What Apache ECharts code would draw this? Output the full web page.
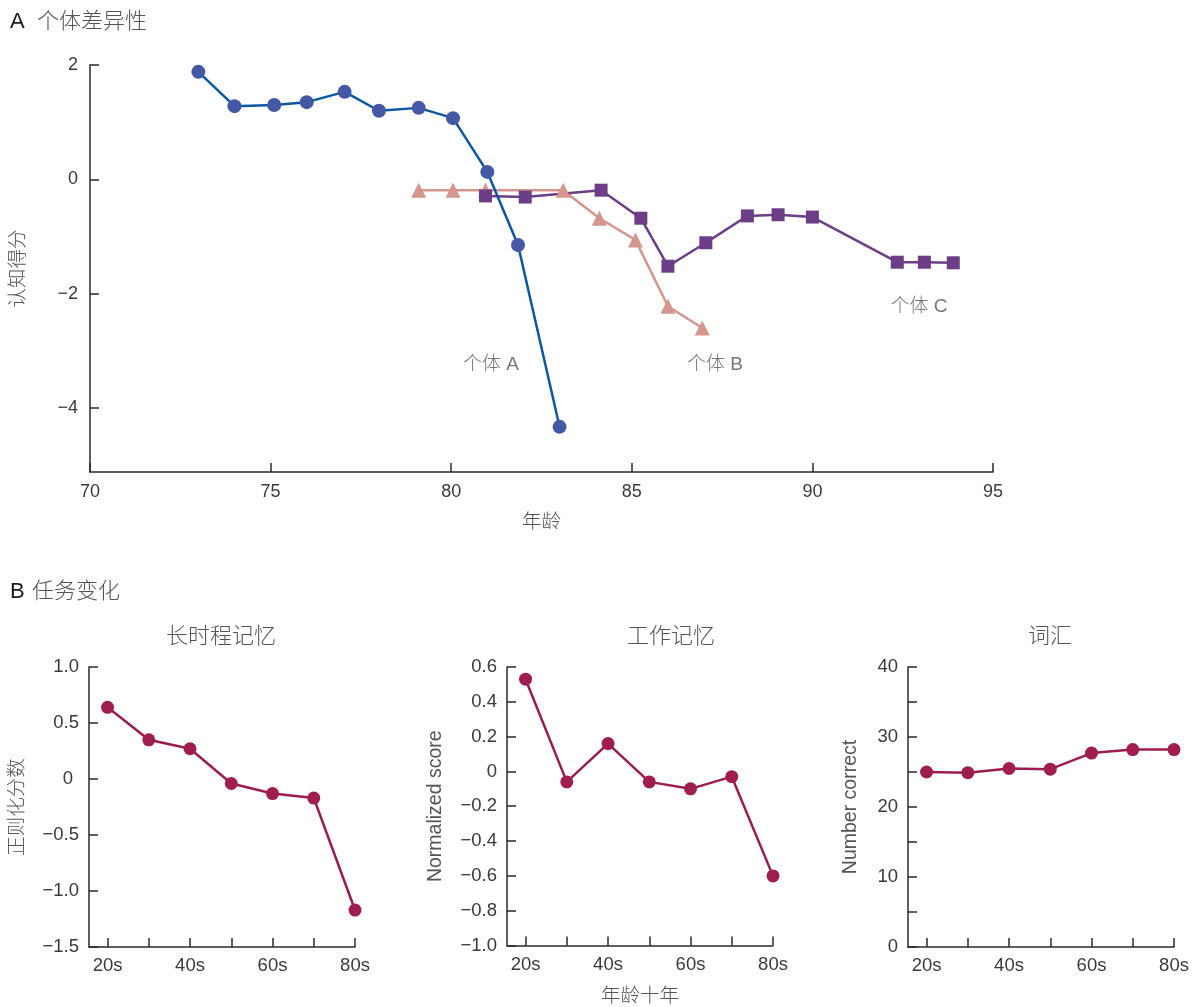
<!DOCTYPE html>
<html><head><meta charset="utf-8">
<script src="https://cdn.jsdelivr.net/npm/echarts@6/dist/echarts.min.js"></script>
<style>html,body{margin:0;padding:0;background:#fff}#c{width:1195px;height:1007px}</style>
</head><body><div id="c"></div>
<script>
// ---- Panel A data: [age, score]
const personA = [[73,1.88],[74,1.28],[75.1,1.30],[76,1.35],[77.05,1.53],[78,1.20],[79.1,1.25],[80.05,1.07],[81,0.13],[81.85,-1.15],[83,-4.33]];
const personB = [[79.1,-0.19],[80.05,-0.19],[80.95,-0.19],[83.1,-0.19],[84.1,-0.68],[85.1,-1.06],[86,-2.22],[86.95,-2.60]];
const personC = [[80.95,-0.29],[82.05,-0.31],[84.15,-0.19],[85.25,-0.68],[86,-1.52],[87.05,-1.11],[88.2,-0.64],[89.05,-0.62],[90,-0.66],[92.35,-1.45],[93.1,-1.45],[93.9,-1.46]];
const annotations = [[81.1,-3.25,'个体 A'],[87.3,-3.25,'个体 B'],[92.95,-2.23,'个体 C']];
const yTicksA = [2,0,-2,-4];
// ---- Panel B data
const decades = ['20s','30s','40s','50s','60s','70s','80s'];
const longTermMemory = [0.64,0.35,0.27,-0.04,-0.13,-0.17,-1.17];
const workingMemory = [0.53,-0.06,0.16,-0.06,-0.10,-0.03,-0.60];
const vocabulary = [25.0,24.9,25.5,25.4,27.7,28.2,28.2];
const panelTitles = ['长时程记忆','工作记忆','词汇'];

const FONT = '"Liberation Sans","Noto Sans CJK SC",sans-serif';
const TXT = '#3a3a3a';
const NAMEC = '#555';
const chart = echarts.init(document.getElementById('c'));

const axisLine = {show:true, onZero:false, lineStyle:{color:'#2a2a2a', width:1.5}};
const tickIn = {show:true, inside:true, length:9, lineStyle:{color:'#2a2a2a', width:1.5}};
const lbl = (size)=>({color:TXT, fontSize:size, fontFamily:FONT});
const nameStyle = {color:NAMEC, fontSize:19.5, fontFamily:FONT, fontWeight:300};

const decadeIdx = decades.map((d,i)=>i);
const labelIdx = decadeIdx.filter(i=>i%2===0);
function pts(arr){return arr.map((v,i)=>[i,v]);}

const grids = [
  {left:90, top:65, width:903, height:407},
  {left:89, top:667, width:266, height:280},
  {left:507, top:667, width:266, height:280},
  {left:908, top:667, width:266, height:280}
];

function bx(gi, name){
  return {type:'value', gridIndex:gi, min:-0.45, max:6,
    axisLine:axisLine, splitLine:{show:false},
    axisTick:Object.assign({}, tickIn, {customValues:decadeIdx}),
    axisLabel:Object.assign(lbl(18.5), {margin:10, customValues:labelIdx, formatter:v=>decades[Math.round(v)]}),
    name:name||'', nameLocation:'middle', nameGap:41, nameTextStyle:nameStyle};
}
function by(gi, min, max, interval, name, gap, extra){
  const o = {type:'value', gridIndex:gi, min:min, max:max, interval:interval,
    axisLine:axisLine, splitLine:{show:false}, axisTick:Object.assign({}, tickIn),
    axisLabel:Object.assign(lbl(18.5), {margin:10, formatter:v=>{const s=(interval<1? (Math.abs(v)<1e-9?'0':v.toFixed(1)) : String(v)); return s.replace('-', '\u2212');}}),
    name:name, nameLocation:'middle', nameGap:gap, nameTextStyle:nameStyle};
  return Object.assign(o, extra||{});
}

const crimson = '#9c1c4f';
function bSeries(gi, arr){
  return {type:'line', xAxisIndex:gi, yAxisIndex:gi, data:pts(arr), symbol:'circle', symbolSize:13,
    lineStyle:{color:crimson, width:2.5}, itemStyle:{color:'#a01d50'}, animation:false};
}

const option = {
  animation:false,
  backgroundColor:'#fff',
  grid:grids,
  xAxis:[
    {type:'value', gridIndex:0, min:70, max:95, interval:5, axisLine:axisLine, splitLine:{show:false},
     axisTick:tickIn, axisLabel:Object.assign(lbl(18),{margin:11}),
     name:'年龄', nameLocation:'middle', nameGap:41, nameTextStyle:nameStyle},
    bx(1), bx(2,'年龄十年'), bx(3)
  ],
  yAxis:[
    {type:'value', gridIndex:0, min:-5.12, max:2, axisLine:axisLine, splitLine:{show:false},
     axisTick:Object.assign({}, tickIn, {customValues:yTicksA}),
     axisLabel:Object.assign(lbl(18),{margin:12, customValues:yTicksA, formatter:v=>String(v).replace('-','\u2212')}),
     name:'认知得分', nameLocation:'middle', nameGap:62, nameTextStyle:nameStyle},
    by(1,-1.5,1.0,0.5,'正则化分数',62,{
      axisLabel:Object.assign(lbl(18.5),{margin:10,
        formatter:v=>Math.abs(v)<1e-9 ? '{z|0}' : v.toFixed(1).replace('-','\u2212'),
        rich:{z:{fontSize:18.5, fontFamily:FONT, color:TXT, padding:[0,6,0,0]}}})}),
    by(2,-1.0,0.6,0.2,'Normalized score',62),
    by(3,0,40,5,'Number correct',48,{
      axisTick:Object.assign({}, tickIn, {customValues:[0,5,10,15,20,25,30,35,40]}),
      axisLabel:Object.assign(lbl(18.5),{margin:10, customValues:[0,10,20,30,40]})})
  ],
  series:[
    {type:'line', xAxisIndex:0, yAxisIndex:0, data:personA, symbol:'circle', symbolSize:14,
     lineStyle:{color:'#0b57a4', width:2.5}, itemStyle:{color:'#4458a6'}, z:3},
    {type:'line', xAxisIndex:0, yAxisIndex:0, data:personB, symbol:'triangle', symbolSize:15,
     lineStyle:{color:'#d4968e', width:2.5}, itemStyle:{color:'#d4968e'}, z:2},
    {type:'line', xAxisIndex:0, yAxisIndex:0, data:personC, symbol:'rect', symbolSize:13,
     lineStyle:{color:'#6b3e87', width:2.5}, itemStyle:{color:'#6b3e87'}, z:2},
    {type:'scatter', xAxisIndex:0, yAxisIndex:0, data:annotations.map(a=>({value:[a[0],a[1]], name:a[2]})),
     symbolSize:0, silent:true,
     label:{show:true, position:'inside', formatter:p=>p.name, color:'#555', fontSize:19, fontFamily:FONT, fontWeight:300}},
    bSeries(1,longTermMemory), bSeries(2,workingMemory), bSeries(3,vocabulary)
  ],
  graphic:[
    {type:'text', x:10, y:22, style:{text:'A', fontSize:22, fontFamily:FONT, fill:'#1a1a1a', verticalAlign:'middle'}},
    {type:'text', x:37, y:22, style:{text:'个体差异性', fontSize:22, fontFamily:FONT, fontWeight:300, fill:'#555', verticalAlign:'middle'}},
    {type:'text', x:10, y:592, style:{text:'B', fontSize:22, fontFamily:FONT, fill:'#1a1a1a', verticalAlign:'middle'}},
    {type:'text', x:32, y:592, style:{text:'任务变化', fontSize:22, fontFamily:FONT, fontWeight:300, fill:'#555', verticalAlign:'middle'}},
    {type:'text', x:221, y:637, style:{text:panelTitles[0], fontSize:22, fontFamily:FONT, fontWeight:300, fill:'#555', align:'center', verticalAlign:'middle'}},
    {type:'text', x:671, y:637, style:{text:panelTitles[1], fontSize:22, fontFamily:FONT, fontWeight:300, fill:'#555', align:'center', verticalAlign:'middle'}},
    {type:'text', x:1050, y:637, style:{text:panelTitles[2], fontSize:22, fontFamily:FONT, fontWeight:300, fill:'#555', align:'center', verticalAlign:'middle'}}
  ]
};
chart.setOption(option);
</script></body></html>
